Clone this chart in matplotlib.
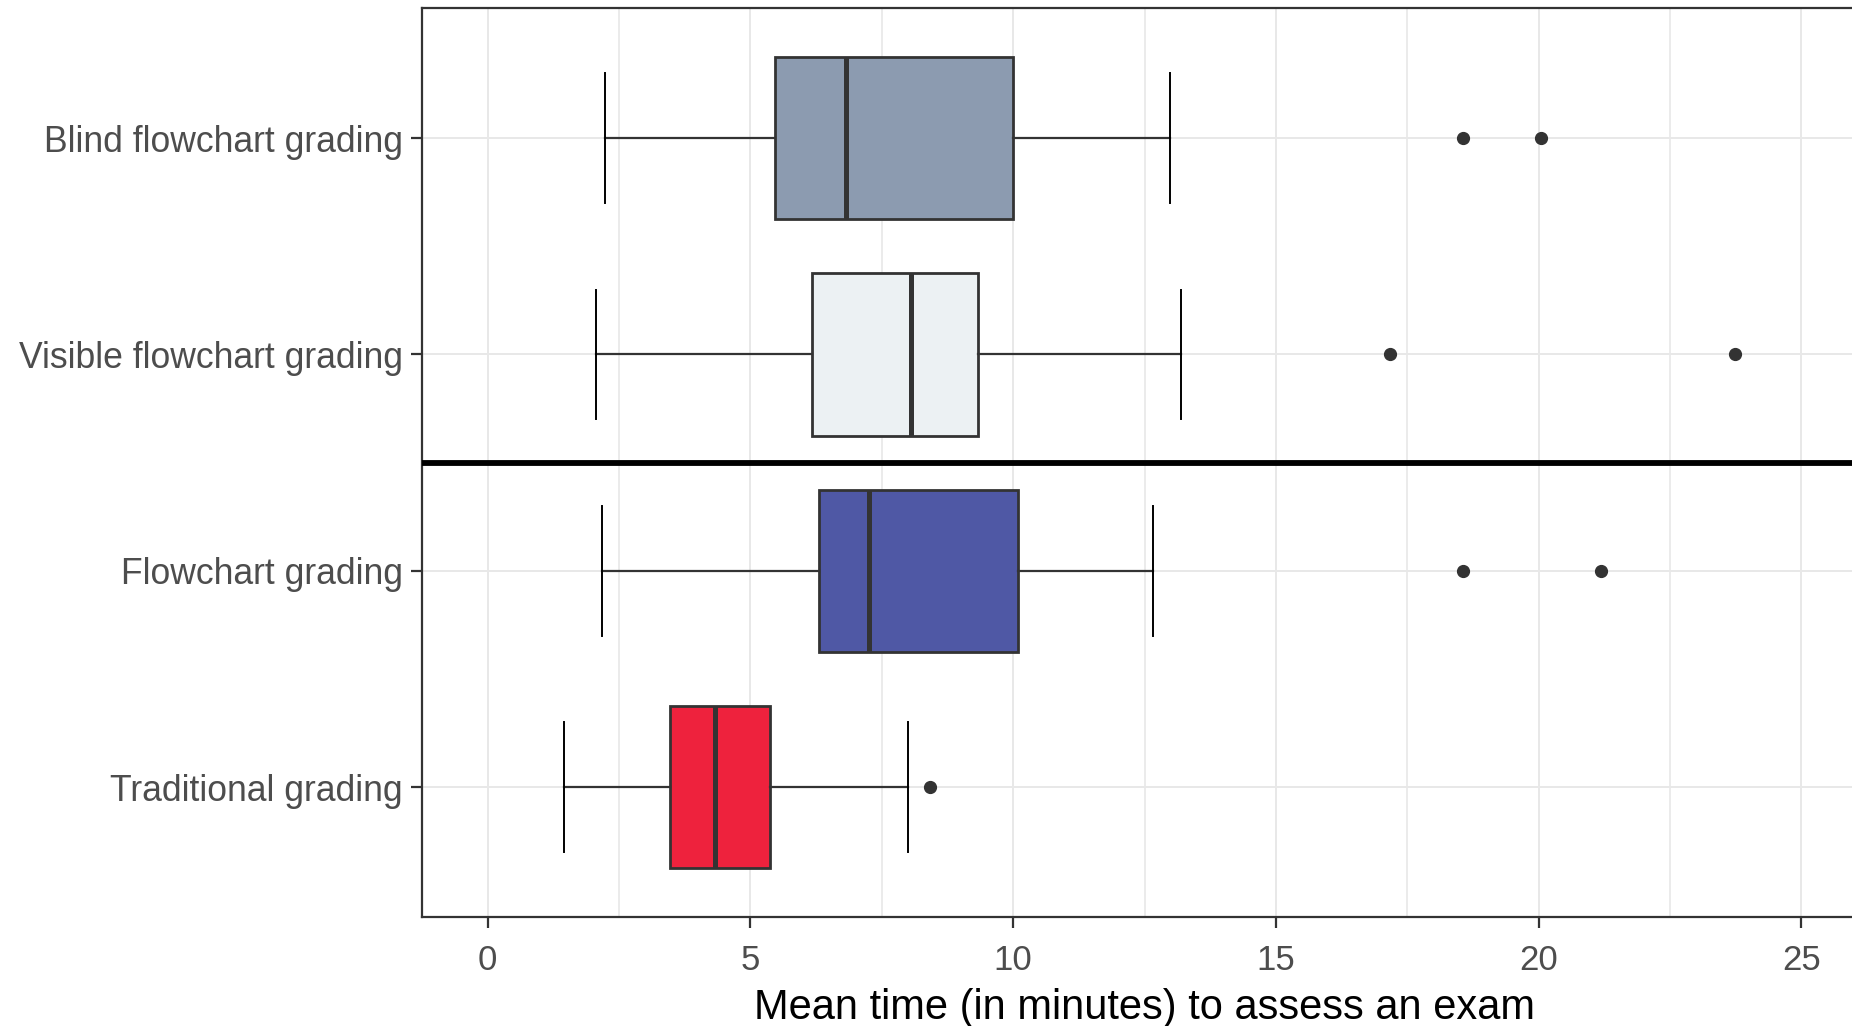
import matplotlib
matplotlib.use("Agg")
import matplotlib.pyplot as plt
from matplotlib.ticker import MultipleLocator

plt.rcParams["font.family"] = ["Liberation Sans", "DejaVu Sans"]

# Datos (minutos)
categories = ["Traditional grading", "Flowchart grading",
              "Visible flowchart grading", "Blind flowchart grading"]
whislo = [1.45, 2.17, 2.06, 2.23]
q1 = [3.46, 6.30, 6.18, 5.46]
med = [4.32, 7.25, 8.05, 6.81]
q3 = [5.38, 10.10, 9.33, 10.00]
whishi = [7.99, 12.67, 13.20, 12.98]
fliers = [[8.41], [18.57, 21.18], [17.17, 23.74], [18.57, 20.04]]
colors = ["#EE223D", "#4F58A5", "#ECF1F3", "#8C9BB0"]

stats = []
for i, c in enumerate(categories):
    stats.append(dict(label=c, whislo=whislo[i], q1=q1[i], med=med[i],
                      q3=q3[i], whishi=whishi[i], fliers=fliers[i]))

fig = plt.figure(figsize=(18.52, 10.26), dpi=100)
ax = fig.add_axes([0.2279, 0.1062, 0.7802, 0.8857])

positions = list(range(1, len(categories) + 1))
bp = ax.bxp(stats, positions=positions, widths=0.75, capwidths=0.6,
            orientation="horizontal", patch_artist=True,
            boxprops=dict(edgecolor="#333333", linewidth=2.0),
            medianprops=dict(color="#333333", linewidth=3.6, solid_capstyle="butt"),
            whiskerprops=dict(color="#333333", linewidth=1.6),
            capprops=dict(color="black", linewidth=1.4),
            flierprops=dict(marker="o", markerfacecolor="#333333",
                            markeredgecolor="#333333", markersize=8.5),
            zorder=3)
for patch, col in zip(bp["boxes"], colors):
    patch.set_facecolor(col)

# linea separadora
ax.axhline(2.5, color="black", linewidth=4.2, zorder=4)

ax.set_xlim(-1.25, 26.25)
ax.set_ylim(0.4, 4.6)
ax.xaxis.set_major_locator(MultipleLocator(5))
ax.xaxis.set_minor_locator(MultipleLocator(2.5))
ax.set_xticks([0, 5, 10, 15, 20, 25])
ax.set_xticklabels(["0", "5", "10", "15", "20", "25"])
ax.set_yticks(positions)
ax.set_yticklabels(categories)

ax.grid(True, which="major", color="#E8E8E8", linewidth=1.4, zorder=0)
ax.grid(True, which="minor", axis="x", color="#E8E8E8", linewidth=1.2, zorder=0)
ax.set_axisbelow(True)

for s in ax.spines.values():
    s.set_color("#333333")
    s.set_linewidth(1.6)

ax.tick_params(axis="both", which="major", labelcolor="#4D4D4D",
               color="#333333", length=8, width=1.6)
ax.tick_params(axis="x", labelsize=25, pad=11.5)
ax.tick_params(axis="y", labelsize=25.6, pad=6)
ax.tick_params(which="minor", length=0)

ax.set_xlabel("Mean time (in minutes) to assess an exam", fontsize=30,
              color="black", labelpad=8)

fig.savefig("out.png", dpi=100)
plt.close(fig)
